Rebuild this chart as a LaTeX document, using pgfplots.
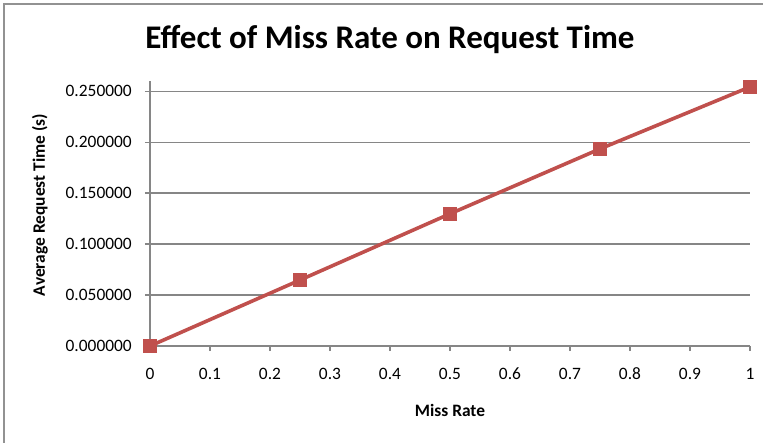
\documentclass[border=0pt]{standalone}
\usepackage{pgfplots}
\pgfplotsset{compat=1.18}
\usepackage{fontspec}
\setmainfont{Carlito}
\definecolor{exred}{HTML}{C0504D}
\definecolor{exgrid}{HTML}{868686}
\begin{document}
\begin{tikzpicture}
\useasboundingbox (-150pt,-96pt) rectangle (613pt,346pt);
\draw[exgrid!90, line width=1.3pt] (-146pt,-100pt) -- (-146pt,342pt) -- (620pt,342pt);
\begin{axis}[
  at={(0,0)}, anchor=south west,
  scale only axis, width=600pt, height=265pt,
  xmin=0, xmax=1, ymin=0, ymax=0.26,
  xtick={0,0.1,...,1.01},
  ytick={0,0.05,0.1,0.15,0.2,0.25},
  axis x line*=bottom, axis y line*=left,
  axis line style={exgrid, line width=1.3pt, -},
  tick style={exgrid, line width=1.3pt},
  tick align=outside, major tick length=5pt,
  ymajorgrids, grid style={exgrid, line width=1.3pt},
  clip=false,
  /pgf/number format/assume math mode=true,
  ticklabel style={font=\fontsize{17.4}{20}\selectfont},
  yticklabel style={/pgf/number format/fixed, /pgf/number format/fixed zerofill, /pgf/number format/precision=6, anchor=east, inner sep=0pt, xshift=-13pt},
  xticklabel style={/pgf/number format/fixed, anchor=base, inner sep=0pt, yshift=-28pt},
  title={\fontsize{33}{38}\selectfont\bfseries Effect of Miss Rate on Request Time},
  title style={at={(rel axis cs:0.4,1.10)}, anchor=base, inner sep=0pt},
  xlabel={\fontsize{17.4}{20}\selectfont\bfseries Miss Rate},
  xlabel style={at={(rel axis cs:0.5,-0.2415)}, anchor=center, inner sep=0pt},
  ylabel={\fontsize{17.4}{20}\selectfont\bfseries Average Request Time (s)},
  ylabel style={at={(rel axis cs:-0.1833,0.532)}, anchor=center, rotate=0, inner sep=0pt},
]
\addplot[exred, line width=3.6pt, mark=square*, mark size=6.5pt, mark options={fill=exred, draw=exred, line width=0pt}]
  coordinates {(0,0) (0.25,0.0647) (0.5,0.1297) (0.75,0.1934) (1,0.2542)};
\end{axis}
\end{tikzpicture}
\end{document}
